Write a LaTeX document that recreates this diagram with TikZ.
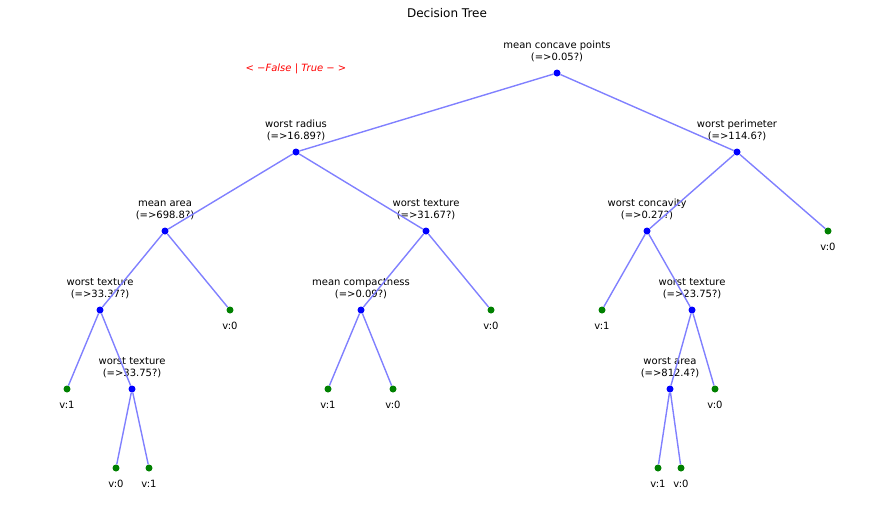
\documentclass[tikz,border=0pt]{standalone}
\usepackage{fontspec}
\setmainfont{DejaVu Sans}
\usetikzlibrary{positioning}

\definecolor{edgeblue}{RGB}{128,128,255}
\definecolor{leafgreen}{RGB}{0,128,0}
\tikzset{
  split/.style={circle, fill=blue, inner sep=0pt, minimum size=7pt},
  leaf/.style={circle, fill=leafgreen, inner sep=0pt, minimum size=7pt,
    label={[lbl, label distance=8.5pt]below:{#1}}},
  ask/.style={label={[lbl, align=center, label distance=7pt]above:{#1}}},
  lbl/.style={inner sep=0pt, font=\fontsize{10}{12}\selectfont},
  edge/.style={draw=edgeblue, line width=1.4pt}
}

\begin{document}
\begin{tikzpicture}[x=1pt, y=-1pt]
\useasboundingbox (0,0) rectangle (873,512);

\node[font=\fontsize{12}{14}\selectfont] (title) at (447,13) {Decision Tree};
\node[text=red, font=\fontsize{10}{12}\selectfont\itshape] (sides) at (296,69) {< −False | True − >};

% splits
\node[split, ask={mean concave points\\(=>0.05?)}] (root) at (557,73) {};
\node[split, ask={worst radius\\(=>16.89?)}] (wr) at (296,152) {};
\node[split, ask={worst perimeter\\(=>114.6?)}] (wp) at (737,152) {};
\node[split, ask={mean area\\(=>698.8?)}] (ma) at (165,231) {};
\node[split, ask={worst texture\\(=>31.67?)}] (wt1) at (426,231) {};
\node[split, ask={worst concavity\\(=>0.27?)}] (wc) at (647,231) {};
\node[split, ask={worst texture\\(=>33.37?)}] (wt2) at (100,310) {};
\node[split, ask={mean compactness\\(=>0.09?)}] (mc) at (361,310) {};
\node[split, ask={worst texture\\(=>23.75?)}] (wt3) at (692,310) {};
\node[split, ask={worst texture\\(=>33.75?)}] (wt4) at (132,389) {};
\node[split, ask={worst area\\(=>812.4?)}] (wa) at (670,389) {};

% leaves
\node[leaf=v:0] (l1) at (828,231) {};
\node[leaf=v:0] (l2) at (230,310) {};
\node[leaf=v:0] (l3) at (491,310) {};
\node[leaf=v:1] (l4) at (602,310) {};
\node[leaf=v:1] (l5) at (67,389) {};
\node[leaf=v:1] (l6) at (328,389) {};
\node[leaf=v:0] (l7) at (393,389) {};
\node[leaf=v:0] (l8) at (715,389) {};
\node[leaf=v:0] (l9) at (116,468) {};
\node[leaf=v:1] (l10) at (149,468) {};
\node[leaf=v:1] (l11) at (658,468) {};
\node[leaf=v:0] (l12) at (681,468) {};

% edges
\path[edge] (root) -- (wr) (root) -- (wp);
\path[edge] (wr) -- (ma) (wr) -- (wt1);
\path[edge] (wp) -- (wc) (wp) -- (l1);
\path[edge] (ma) -- (wt2) (ma) -- (l2);
\path[edge] (wt1) -- (mc) (wt1) -- (l3);
\path[edge] (wc) -- (l4) (wc) -- (wt3);
\path[edge] (wt2) -- (l5) (wt2) -- (wt4);
\path[edge] (mc) -- (l6) (mc) -- (l7);
\path[edge] (wt3) -- (wa) (wt3) -- (l8);
\path[edge] (wt4) -- (l9) (wt4) -- (l10);
\path[edge] (wa) -- (l11) (wa) -- (l12);

\end{tikzpicture}
\end{document}
